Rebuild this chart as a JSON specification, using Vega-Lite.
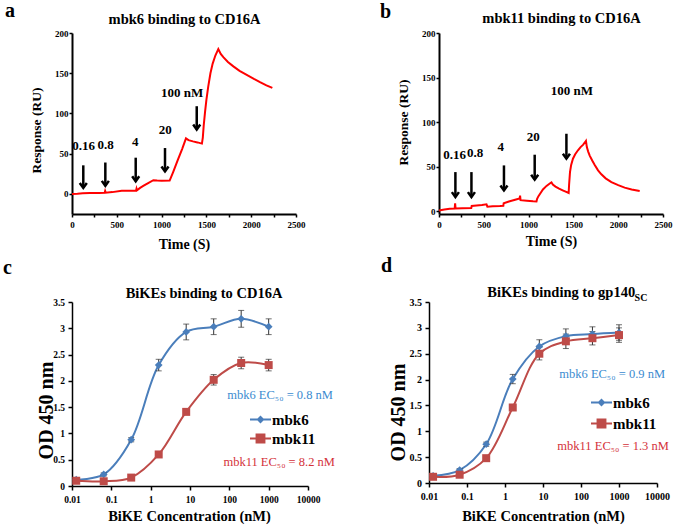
{
  "$schema": "https://vega.github.io/schema/vega-lite/v6.json",
  "autosize": {"type": "none"},
  "padding": {"left": 72, "top": 33, "right": 603, "bottom": 494},
  "background": "white",
  "config": {
    "font": "Liberation Serif",
    "view": {"stroke": null},
    "axis": {"labelFont": "Liberation Serif", "labelFontWeight": "bold", "labelColor": "black", "titleFont": "Liberation Serif", "titleFontWeight": "bold", "titleColor": "black", "domainColor": "black", "tickColor": "black", "grid": false, "labelFlush": false, "labelOverlap": false},
    "legend": {"labelFont": "Liberation Serif", "labelFontWeight": "bold"},
    "title": {"font": "Liberation Serif", "fontWeight": "bold", "color": "black"},
    "text": {"font": "Liberation Serif"}
  },
  "spacing": 5,
  "vconcat": [
    {
      "spacing": 143,
      "bounds": "flush",
      "hconcat": [
        {
          "width": 224, "height": 181,
          "title": {"text": "a", "anchor": "start", "frame": "group", "dx": -67, "offset": 0, "dy": 26.4, "fontSize": 20, "baseline": "alphabetic"},
          "layer": [
            {
              "data": {"values": [
                {"t":0,"ru":0},{"t":60,"ru":0.3},{"t":120,"ru":0.8},{"t":200,"ru":1},{"t":300,"ru":1.2},{"t":365,"ru":1.3},{"t":370,"ru":3.5},{"t":376,"ru":1.5},{"t":450,"ru":2.2},{"t":555,"ru":3.8},{"t":640,"ru":4},{"t":715,"ru":4.2},{"t":720,"ru":6.5},{"t":725,"ru":4.5},{"t":760,"ru":7.5},{"t":800,"ru":10.2},{"t":850,"ru":13.5},{"t":908,"ru":17},{"t":950,"ru":16.6},{"t":1000,"ru":16.4},{"t":1090,"ru":16.5},{"t":1130,"ru":27.5},{"t":1180,"ru":42},{"t":1230,"ru":56},{"t":1272,"ru":69},{"t":1300,"ru":66.8},{"t":1350,"ru":65.3},{"t":1400,"ru":64},{"t":1450,"ru":62.5},{"t":1460,"ru":70},{"t":1470,"ru":85},{"t":1485,"ru":102},{"t":1500,"ru":117},{"t":1520,"ru":133},{"t":1545,"ru":150},{"t":1570,"ru":162},{"t":1600,"ru":172},{"t":1633,"ru":180},{"t":1660,"ru":174},{"t":1689,"ru":170},{"t":1740,"ru":164},{"t":1801,"ru":158.5},{"t":1870,"ru":153},{"t":1950,"ru":148},{"t":2030,"ru":143},{"t":2098,"ru":139},{"t":2170,"ru":135},{"t":2236,"ru":131.7}
              ]},
              "mark": {"type": "line", "color": "#ff0000", "strokeWidth": 2},
              "encoding": {
                "x": {"field": "t", "type": "quantitative", "scale": {"domain": [0, 2500], "nice": false},
                  "axis": {"values": [0,250,500,750,1000,1250,1500,1750,2000,2250,2500], "labelExpr": "datum.value % 500 === 0 ? datum.label : ''", "format": "d", "domainWidth": 2, "tickWidth": 1.5, "tickSize": 3, "labelFontSize": 9, "labelPadding": 3, "labelOverlap": false, "title": "Time (S)", "titleFontSize": 14, "titleX": 112, "titleY": 30, "titleBaseline": "middle", "titleAlign": "center"}},
                "y": {"field": "ru", "type": "quantitative", "scale": {"domain": [-25, 200], "nice": false},
                  "axis": {"values": [0,25,50,75,100,125,150,175,200], "labelExpr": "datum.value % 50 === 0 ? datum.label : ''", "format": "d", "domainWidth": 2, "tickWidth": 1.5, "tickSize": 3, "labelFontSize": 9, "labelPadding": 1, "labelOverlap": false, "title": "Response (RU)", "titleFontSize": 13.5, "titleX": -36, "titleY": 97, "titleAngle": 270, "titleBaseline": "middle", "titleAlign": "center"}}
              }
            },
            {
              "data": {"name": "arrowsA", "values": [
                {"label":"0.16","t":126,"top":35.5,"tip":7.5,"lt":130,"ly":59},
                {"label":"0.8","t":372,"top":39,"tip":10,"lt":375,"ly":61},
                {"label":"4","t":711,"top":45,"tip":15.7,"lt":705,"ly":65},
                {"label":"20","t":1038,"top":57,"tip":28,"lt":1040,"ly":80},
                {"label":"100 nM","t":1392,"top":109,"tip":80,"lt":1228,"ly":125.5}
              ]},
              "mark": {"type": "rule", "color": "black", "strokeWidth": 2.5},
              "encoding": {"x": {"field": "t", "type": "quantitative", "axis": null}, "y": {"field": "top", "type": "quantitative", "title": "Response (RU)"}, "y2": {"field": "tip"}}
            },
            {
              "data": {"name": "arrowsA"},
              "mark": {"type": "point", "shape": "M-1,-1.4L0,0L1,-1.4", "size": 50, "filled": false, "color": "black", "strokeWidth": 2.5, "opacity": 1},
              "encoding": {"x": {"field": "t", "type": "quantitative", "axis": null}, "y": {"field": "tip", "type": "quantitative", "title": "Response (RU)"}}
            },
            {
              "data": {"name": "arrowsA"},
              "mark": {"type": "text", "font": "Liberation Serif", "fontSize": 13, "fontWeight": "bold", "baseline": "middle", "align": "center", "color": "black"},
              "encoding": {
                "x": {"field": "lt", "type": "quantitative", "axis": {"orient": "top", "domain": false, "ticks": false, "labels": false, "title": "mbk6 binding to CD16A", "titleFontSize": 14.5, "titleX": 112, "titleY": -10, "titleBaseline": "alphabetic", "titleAlign": "center"}},
                "y": {"field": "ly", "type": "quantitative", "title": "Response (RU)"},
                "text": {"field": "label"}
              }
            }
          ],
          "resolve": {"axis": {"x": "independent"}}
        },
        {
          "width": 224, "height": 181,
          "title": {"text": "b", "anchor": "start", "frame": "group", "dx": -59, "offset": 0, "dy": 27.6, "fontSize": 20, "baseline": "alphabetic"},
          "layer": [
            {
              "data": {"values": [
                {"t":0,"ru":1},{"t":60,"ru":2},{"t":120,"ru":2.8},{"t":175,"ru":3},{"t":180,"ru":9},{"t":185,"ru":3.2},{"t":260,"ru":3.4},{"t":360,"ru":3.6},{"t":365,"ru":6},{"t":420,"ru":6.5},{"t":480,"ru":7},{"t":530,"ru":7.8},{"t":540,"ru":5.2},{"t":600,"ru":5.6},{"t":680,"ru":6},{"t":718,"ru":6.3},{"t":722,"ru":9},{"t":780,"ru":11},{"t":850,"ru":13},{"t":900,"ru":14.5},{"t":905,"ru":17.5},{"t":910,"ru":12.5},{"t":980,"ru":11.8},{"t":1050,"ru":11.2},{"t":1088,"ru":11},{"t":1095,"ru":14},{"t":1110,"ru":17},{"t":1130,"ru":20},{"t":1160,"ru":24.5},{"t":1200,"ru":28.5},{"t":1240,"ru":31.5},{"t":1255,"ru":32.5},{"t":1270,"ru":30},{"t":1300,"ru":27.8},{"t":1340,"ru":25.5},{"t":1380,"ru":23.6},{"t":1420,"ru":21.8},{"t":1447,"ru":20.5},{"t":1452,"ru":30},{"t":1462,"ru":44},{"t":1475,"ru":52},{"t":1495,"ru":59},{"t":1520,"ru":64},{"t":1551,"ru":68.5},{"t":1580,"ru":72},{"t":1607,"ru":74.5},{"t":1630,"ru":77.5},{"t":1640,"ru":79},{"t":1650,"ru":72},{"t":1665,"ru":67},{"t":1682,"ru":62.5},{"t":1710,"ru":57},{"t":1738,"ru":52},{"t":1775,"ru":46},{"t":1812,"ru":41.5},{"t":1860,"ru":37},{"t":1924,"ru":32.8},{"t":2000,"ru":29.3},{"t":2072,"ru":26.6},{"t":2150,"ru":24.5},{"t":2240,"ru":22.8}
              ]},
              "mark": {"type": "line", "color": "#ff0000", "strokeWidth": 2},
              "encoding": {
                "x": {"field": "t", "type": "quantitative", "scale": {"domain": [0, 2500], "nice": false},
                  "axis": {"values": [0,250,500,750,1000,1250,1500,1750,2000,2250,2500], "labelExpr": "datum.value % 500 === 0 ? datum.label : ''", "format": "d", "domainWidth": 2, "tickWidth": 1.5, "tickSize": 3, "labelFontSize": 9, "labelPadding": 3, "labelOverlap": false, "title": "Time (S)", "titleFontSize": 14, "titleX": 112, "titleY": 27, "titleBaseline": "middle", "titleAlign": "center"}},
                "y": {"field": "ru", "type": "quantitative", "scale": {"domain": [-3, 200], "nice": false},
                  "axis": {"values": [0,25,50,75,100,125,150,175,200], "labelExpr": "datum.value % 50 === 0 ? datum.label : ''", "format": "d", "domainWidth": 2, "tickWidth": 1.5, "tickSize": 3, "labelFontSize": 9, "labelPadding": 1, "labelOverlap": false, "title": "Response (RU)", "titleFontSize": 13.5, "titleX": -36, "titleY": 89, "titleAngle": 270, "titleBaseline": "middle", "titleAlign": "center"}}
              }
            },
            {
              "data": {"name": "arrowsB", "values": [
                {"label":"0.16","t":183,"top":44,"tip":16,"lt":175,"ly":63},
                {"label":"0.8","t":362,"top":44,"tip":16,"lt":402,"ly":65},
                {"label":"4","t":725,"top":51.5,"tip":23.5,"lt":690,"ly":72},
                {"label":"20","t":1068,"top":63.5,"tip":35.5,"lt":1053,"ly":83},
                {"label":"100 nM","t":1422,"top":87,"tip":59,"lt":1484,"ly":135.5}
              ]},
              "mark": {"type": "rule", "color": "black", "strokeWidth": 2.5},
              "encoding": {"x": {"field": "t", "type": "quantitative", "axis": null}, "y": {"field": "top", "type": "quantitative", "title": "Response (RU)"}, "y2": {"field": "tip"}}
            },
            {
              "data": {"name": "arrowsB"},
              "mark": {"type": "point", "shape": "M-1,-1.4L0,0L1,-1.4", "size": 50, "filled": false, "color": "black", "strokeWidth": 2.5, "opacity": 1},
              "encoding": {"x": {"field": "t", "type": "quantitative", "axis": null}, "y": {"field": "tip", "type": "quantitative", "title": "Response (RU)"}}
            },
            {
              "data": {"name": "arrowsB"},
              "mark": {"type": "text", "font": "Liberation Serif", "fontSize": 13, "fontWeight": "bold", "baseline": "middle", "align": "center", "color": "black"},
              "encoding": {
                "x": {"field": "lt", "type": "quantitative", "axis": {"orient": "top", "domain": false, "ticks": false, "labels": false, "title": "mbk11 binding to CD16A", "titleFontSize": 14.5, "titleX": 122, "titleY": -10.5, "titleBaseline": "alphabetic", "titleAlign": "center"}},
                "y": {"field": "ly", "type": "quantitative", "title": "Response (RU)"},
                "text": {"field": "label"}
              }
            }
          ],
          "resolve": {"axis": {"x": "independent"}}
        }
      ]
    },
    {
      "spacing": 121,
      "bounds": "flush",
      "resolve": {"scale": {"color": "independent"}, "legend": {"color": "independent"}},
      "hconcat": [
        {
          "width": 236, "height": 184,
          "title": {"text": "c", "anchor": "start", "frame": "group", "dx": -69, "offset": 0, "dy": 9, "fontSize": 20, "baseline": "alphabetic"},
          "layer": [
            {
              "data": {"name": "elisaC", "values": [
                {"series":"mbk6","conc":0.0128,"od":0.12,"err":0.02},{"series":"mbk6","conc":0.064,"od":0.22,"err":0.03},{"series":"mbk6","conc":0.32,"od":0.88,"err":0.04},{"series":"mbk6","conc":1.6,"od":2.3,"err":0.11},{"series":"mbk6","conc":8,"od":2.93,"err":0.15},{"series":"mbk6","conc":40,"od":3.03,"err":0.15},{"series":"mbk6","conc":200,"od":3.18,"err":0.16},{"series":"mbk6","conc":1000,"od":3.03,"err":0.15},
                {"series":"mbk11","conc":0.0128,"od":0.1,"err":0.02},{"series":"mbk11","conc":0.064,"od":0.09,"err":0.02},{"series":"mbk11","conc":0.32,"od":0.16,"err":0.02},{"series":"mbk11","conc":1.6,"od":0.6,"err":0.03},{"series":"mbk11","conc":8,"od":1.41,"err":0.05},{"series":"mbk11","conc":40,"od":2.02,"err":0.1},{"series":"mbk11","conc":200,"od":2.34,"err":0.11},{"series":"mbk11","conc":1000,"od":2.3,"err":0.11}
              ]},
              "mark": {"type": "line", "interpolate": "catmull-rom", "strokeWidth": 2},
              "encoding": {
                "x": {"field": "conc", "type": "quantitative", "scale": {"type": "log", "domain": [0.01, 10000], "nice": false},
                  "axis": {"values": [0.01,0.1,1,10,100,1000,10000], "format": "~g", "domainWidth": 1.5, "tickWidth": 1.5, "tickSize": 4, "labelFontSize": 9.5, "labelPadding": 4, "labelOverlap": false, "title": "BiKE Concentration (nM)", "titleFontSize": 14.5, "titleX": 117, "titleY": 30, "titleBaseline": "middle", "titleAlign": "center"}},
                "y": {"field": "od", "type": "quantitative", "scale": {"domain": [0, 3.5], "nice": false, "zero": false},
                  "axis": {"values": [0,0.5,1,1.5,2,2.5,3,3.5], "format": "~g", "domainWidth": 1.5, "tickWidth": 1.5, "tickSize": 4, "labelFontSize": 9.5, "labelPadding": 3.5, "labelOverlap": false, "title": "OD 450 nm", "titleFontSize": 20, "titleX": -26, "titleY": 108, "titleAngle": 270, "titleBaseline": "middle", "titleAlign": "center"}},
                "color": {"field": "series", "type": "nominal", "scale": {"domain": ["mbk6","mbk11"], "range": ["#4a7ebb","#be4b48"]},
                  "legend": {"orient": "none", "legendX": 178, "legendY": 107, "title": null, "padding": 0, "symbolSize": 441, "symbolStrokeWidth": 0, "labelFont": "Liberation Serif", "labelFontWeight": "bold", "labelFontSize": 15, "labelColor": "black", "labelOffset": 1, "rowPadding": 0,
                    "encode": {"symbols": {"update": {
                      "shape": {"signal": "datum.value === 'mbk6' ? 'M-1,-0.1H1V0.1H-1Z M0,-0.38L0.38,0L0,0.38L-0.38,0Z' : 'M-1,-0.1H1V0.1H-1Z M-0.47,-0.47H0.47V0.47H-0.47Z'"},
                      "fill": {"signal": "datum.value === 'mbk6' ? '#4a7ebb' : '#be4b48'"},
                      "opacity": {"value": 1}
                    }}, "labels": {"update": {"font": {"value": "Liberation Serif"}, "fontWeight": {"value": "bold"}}}}}}
              }
            },
            {
              "data": {"name": "elisaC"},
              "mark": {"type": "errorbar", "ticks": {"size": 6, "color": "#333333", "strokeWidth": 1}, "rule": {"color": "#333333", "strokeWidth": 1}},
              "encoding": {"x": {"field": "conc", "type": "quantitative", "axis": null},
                "y": {"field": "od", "type": "quantitative", "axis": {"values": [0,0.5,1,1.5,2,2.5,3,3.5], "format": "~g", "domainWidth": 1.5, "tickWidth": 1.5, "tickSize": 4, "labelFontSize": 9.5, "labelPadding": 3.5, "labelOverlap": false, "title": "OD 450 nm", "titleFontSize": 20, "titleX": -26, "titleY": 108, "titleAngle": 270, "titleBaseline": "middle", "titleAlign": "center"}},
                "yError": {"field": "err"}}
            },
            {
              "data": {"name": "elisaC"},
              "transform": [{"filter": "datum.series === 'mbk6'"}],
              "mark": {"type": "point", "shape": "diamond", "filled": true, "opacity": 1, "size": 60, "color": "#4a7ebb"},
              "encoding": {"x": {"field": "conc", "type": "quantitative", "axis": null},
                "y": {"field": "od", "type": "quantitative", "axis": {"values": [0,0.5,1,1.5,2,2.5,3,3.5], "format": "~g", "domainWidth": 1.5, "tickWidth": 1.5, "tickSize": 4, "labelFontSize": 9.5, "labelPadding": 3.5, "labelOverlap": false, "title": "OD 450 nm", "titleFontSize": 20, "titleX": -26, "titleY": 108, "titleAngle": 270, "titleBaseline": "middle", "titleAlign": "center"}}}
            },
            {
              "data": {"name": "elisaC"},
              "transform": [{"filter": "datum.series === 'mbk11'"}],
              "mark": {"type": "point", "shape": "square", "filled": true, "opacity": 1, "size": 64, "color": "#be4b48"},
              "encoding": {"x": {"field": "conc", "type": "quantitative", "axis": null},
                "y": {"field": "od", "type": "quantitative", "axis": {"values": [0,0.5,1,1.5,2,2.5,3,3.5], "format": "~g", "domainWidth": 1.5, "tickWidth": 1.5, "tickSize": 4, "labelFontSize": 9.5, "labelPadding": 3.5, "labelOverlap": false, "title": "OD 450 nm", "titleFontSize": 20, "titleX": -26, "titleY": 108, "titleAngle": 270, "titleBaseline": "middle", "titleAlign": "center"}}}
            },
            {
              "data": {"values": [{"text": "mbk6 EC₅₀ = 0.8 nM", "x": 1950, "y": 1.74}]},
              "mark": {"type": "text", "font": "Liberation Serif", "color": "#3b8bd0", "fontSize": 12.5, "baseline": "middle", "align": "center"},
              "encoding": {
                "x": {"field": "x", "type": "quantitative", "axis": {"orient": "top", "domain": false, "ticks": false, "labels": false, "title": "BiKEs binding to CD16A", "titleFontSize": 14.5, "titleX": 131.5, "titleY": -5, "titleBaseline": "alphabetic", "titleAlign": "center"}},
                "y": {"field": "y", "type": "quantitative", "axis": {"values": [0,0.5,1,1.5,2,2.5,3,3.5], "format": "~g", "domainWidth": 1.5, "tickWidth": 1.5, "tickSize": 4, "labelFontSize": 9.5, "labelPadding": 3.5, "labelOverlap": false, "title": "OD 450 nm", "titleFontSize": 20, "titleX": -26, "titleY": 108, "titleAngle": 270, "titleBaseline": "middle", "titleAlign": "center"}},
                "text": {"field": "text"}
              }
            },
            {
              "data": {"values": [{"text": "mbk11 EC₅₀ = 8.2 nM", "x": 1850, "y": 0.45}]},
              "mark": {"type": "text", "font": "Liberation Serif", "color": "#d4313a", "fontSize": 12.5, "baseline": "middle", "align": "center"},
              "encoding": {
                "x": {"field": "x", "type": "quantitative", "axis": null},
                "y": {"field": "y", "type": "quantitative", "axis": {"values": [0,0.5,1,1.5,2,2.5,3,3.5], "format": "~g", "domainWidth": 1.5, "tickWidth": 1.5, "tickSize": 4, "labelFontSize": 9.5, "labelPadding": 3.5, "labelOverlap": false, "title": "OD 450 nm", "titleFontSize": 20, "titleX": -26, "titleY": 108, "titleAngle": 270, "titleBaseline": "middle", "titleAlign": "center"}},
                "text": {"field": "text"}
              }
            }
          ],
          "resolve": {"axis": {"x": "independent"}}
        },
        {
          "width": 228, "height": 181,
          "title": {"text": "d", "anchor": "start", "frame": "group", "dx": -48, "offset": 0, "dy": 7.3, "fontSize": 20, "baseline": "alphabetic"},
          "layer": [
            {
              "data": {"name": "elisaD", "values": [
                {"series":"mbk6","conc":0.0128,"od":0.14,"err":0.02},{"series":"mbk6","conc":0.064,"od":0.25,"err":0.03},{"series":"mbk6","conc":0.32,"od":0.75,"err":0.04},{"series":"mbk6","conc":1.6,"od":2.01,"err":0.09},{"series":"mbk6","conc":8,"od":2.64,"err":0.13},{"series":"mbk6","conc":40,"od":2.84,"err":0.14},{"series":"mbk6","conc":200,"od":2.88,"err":0.14},{"series":"mbk6","conc":1000,"od":2.91,"err":0.15},
                {"series":"mbk11","conc":0.0128,"od":0.12,"err":0.02},{"series":"mbk11","conc":0.064,"od":0.16,"err":0.02},{"series":"mbk11","conc":0.32,"od":0.48,"err":0.03},{"series":"mbk11","conc":1.6,"od":1.46,"err":0.05},{"series":"mbk11","conc":8,"od":2.5,"err":0.12},{"series":"mbk11","conc":40,"od":2.74,"err":0.14},{"series":"mbk11","conc":200,"od":2.8,"err":0.13},{"series":"mbk11","conc":1000,"od":2.86,"err":0.14}
              ]},
              "mark": {"type": "line", "interpolate": "catmull-rom", "strokeWidth": 2},
              "encoding": {
                "x": {"field": "conc", "type": "quantitative", "scale": {"type": "log", "domain": [0.01, 10000], "nice": false},
                  "axis": {"values": [0.01,0.1,1,10,100,1000,10000], "format": "~g", "domainWidth": 1.5, "tickWidth": 1.5, "tickSize": 4, "labelFontSize": 10, "labelPadding": 4, "labelOverlap": false, "title": "BiKE Concentration (nM)", "titleFontSize": 14.5, "titleX": 114, "titleY": 33, "titleBaseline": "middle", "titleAlign": "center"}},
                "y": {"field": "od", "type": "quantitative", "scale": {"domain": [0, 3.5], "nice": false, "zero": false},
                  "axis": {"values": [0,0.5,1,1.5,2,2.5,3,3.5], "format": "~g", "domainWidth": 1.5, "tickWidth": 1.5, "tickSize": 4, "labelFontSize": 10, "labelPadding": 3.5, "labelOverlap": false, "title": "OD 450 nm", "titleFontSize": 20, "titleX": -31, "titleY": 110, "titleAngle": 270, "titleBaseline": "middle", "titleAlign": "center"}},
                "color": {"field": "series", "type": "nominal", "scale": {"domain": ["mbk6","mbk11"], "range": ["#4a7ebb","#be4b48"]},
                  "legend": {"orient": "none", "legendX": 162, "legendY": 90, "title": null, "padding": 0, "symbolSize": 441, "symbolStrokeWidth": 0, "labelFont": "Liberation Serif", "labelFontWeight": "bold", "labelFontSize": 15, "labelColor": "black", "labelOffset": 1, "rowPadding": 2,
                    "encode": {"symbols": {"update": {
                      "shape": {"signal": "datum.value === 'mbk6' ? 'M-1,-0.1H1V0.1H-1Z M0,-0.38L0.38,0L0,0.38L-0.38,0Z' : 'M-1,-0.1H1V0.1H-1Z M-0.47,-0.47H0.47V0.47H-0.47Z'"},
                      "fill": {"signal": "datum.value === 'mbk6' ? '#4a7ebb' : '#be4b48'"},
                      "opacity": {"value": 1}
                    }}, "labels": {"update": {"font": {"value": "Liberation Serif"}, "fontWeight": {"value": "bold"}}}}}}
              }
            },
            {
              "data": {"name": "elisaD"},
              "mark": {"type": "errorbar", "ticks": {"size": 6, "color": "#333333", "strokeWidth": 1}, "rule": {"color": "#333333", "strokeWidth": 1}},
              "encoding": {"x": {"field": "conc", "type": "quantitative", "axis": null},
                "y": {"field": "od", "type": "quantitative", "axis": {"values": [0,0.5,1,1.5,2,2.5,3,3.5], "format": "~g", "domainWidth": 1.5, "tickWidth": 1.5, "tickSize": 4, "labelFontSize": 10, "labelPadding": 3.5, "labelOverlap": false, "title": "OD 450 nm", "titleFontSize": 20, "titleX": -31, "titleY": 110, "titleAngle": 270, "titleBaseline": "middle", "titleAlign": "center"}},
                "yError": {"field": "err"}}
            },
            {
              "data": {"name": "elisaD"},
              "transform": [{"filter": "datum.series === 'mbk6'"}],
              "mark": {"type": "point", "shape": "diamond", "filled": true, "opacity": 1, "size": 60, "color": "#4a7ebb"},
              "encoding": {"x": {"field": "conc", "type": "quantitative", "axis": null},
                "y": {"field": "od", "type": "quantitative", "axis": {"values": [0,0.5,1,1.5,2,2.5,3,3.5], "format": "~g", "domainWidth": 1.5, "tickWidth": 1.5, "tickSize": 4, "labelFontSize": 10, "labelPadding": 3.5, "labelOverlap": false, "title": "OD 450 nm", "titleFontSize": 20, "titleX": -31, "titleY": 110, "titleAngle": 270, "titleBaseline": "middle", "titleAlign": "center"}}}
            },
            {
              "data": {"name": "elisaD"},
              "transform": [{"filter": "datum.series === 'mbk11'"}],
              "mark": {"type": "point", "shape": "square", "filled": true, "opacity": 1, "size": 64, "color": "#be4b48"},
              "encoding": {"x": {"field": "conc", "type": "quantitative", "axis": null},
                "y": {"field": "od", "type": "quantitative", "axis": {"values": [0,0.5,1,1.5,2,2.5,3,3.5], "format": "~g", "domainWidth": 1.5, "tickWidth": 1.5, "tickSize": 4, "labelFontSize": 10, "labelPadding": 3.5, "labelOverlap": false, "title": "OD 450 nm", "titleFontSize": 20, "titleX": -31, "titleY": 110, "titleAngle": 270, "titleBaseline": "middle", "titleAlign": "center"}}}
            },
            {
              "data": {"values": [{"text": "SC", "x": 3785, "y": 3.57}]},
              "mark": {"type": "text", "font": "Liberation Serif", "color": "black", "fontSize": 10, "fontWeight": "bold", "baseline": "middle", "align": "center"},
              "encoding": {
                "x": {"field": "x", "type": "quantitative", "axis": {"orient": "top", "domain": false, "ticks": false, "labels": false, "title": "BiKEs binding to gp140", "titleFontSize": 14.5, "titleX": 131.7, "titleY": -5.2, "titleBaseline": "alphabetic", "titleAlign": "center"}},
                "y": {"field": "y", "type": "quantitative", "axis": {"values": [0,0.5,1,1.5,2,2.5,3,3.5], "format": "~g", "domainWidth": 1.5, "tickWidth": 1.5, "tickSize": 4, "labelFontSize": 10, "labelPadding": 3.5, "labelOverlap": false, "title": "OD 450 nm", "titleFontSize": 20, "titleX": -31, "titleY": 110, "titleAngle": 270, "titleBaseline": "middle", "titleAlign": "center"}},
                "text": {"field": "text"}
              }
            },
            {
              "data": {"values": [{"text": "mbk6 EC₅₀ = 0.9 nM", "x": 660, "y": 2.1}]},
              "mark": {"type": "text", "font": "Liberation Serif", "color": "#3b8bd0", "fontSize": 12.5, "baseline": "middle", "align": "center"},
              "encoding": {"x": {"field": "x", "type": "quantitative", "axis": null},
                "y": {"field": "y", "type": "quantitative", "axis": {"values": [0,0.5,1,1.5,2,2.5,3,3.5], "format": "~g", "domainWidth": 1.5, "tickWidth": 1.5, "tickSize": 4, "labelFontSize": 10, "labelPadding": 3.5, "labelOverlap": false, "title": "OD 450 nm", "titleFontSize": 20, "titleX": -31, "titleY": 110, "titleAngle": 270, "titleBaseline": "middle", "titleAlign": "center"}},
                "text": {"field": "text"}}
            },
            {
              "data": {"values": [{"text": "mbk11 EC₅₀ = 1.3 nM", "x": 700, "y": 0.72}]},
              "mark": {"type": "text", "font": "Liberation Serif", "color": "#d4313a", "fontSize": 12.5, "baseline": "middle", "align": "center"},
              "encoding": {"x": {"field": "x", "type": "quantitative", "axis": null},
                "y": {"field": "y", "type": "quantitative", "axis": {"values": [0,0.5,1,1.5,2,2.5,3,3.5], "format": "~g", "domainWidth": 1.5, "tickWidth": 1.5, "tickSize": 4, "labelFontSize": 10, "labelPadding": 3.5, "labelOverlap": false, "title": "OD 450 nm", "titleFontSize": 20, "titleX": -31, "titleY": 110, "titleAngle": 270, "titleBaseline": "middle", "titleAlign": "center"}},
                "text": {"field": "text"}}
            }
          ],
          "resolve": {"axis": {"x": "independent"}}
        }
      ]
    }
  ]
}
